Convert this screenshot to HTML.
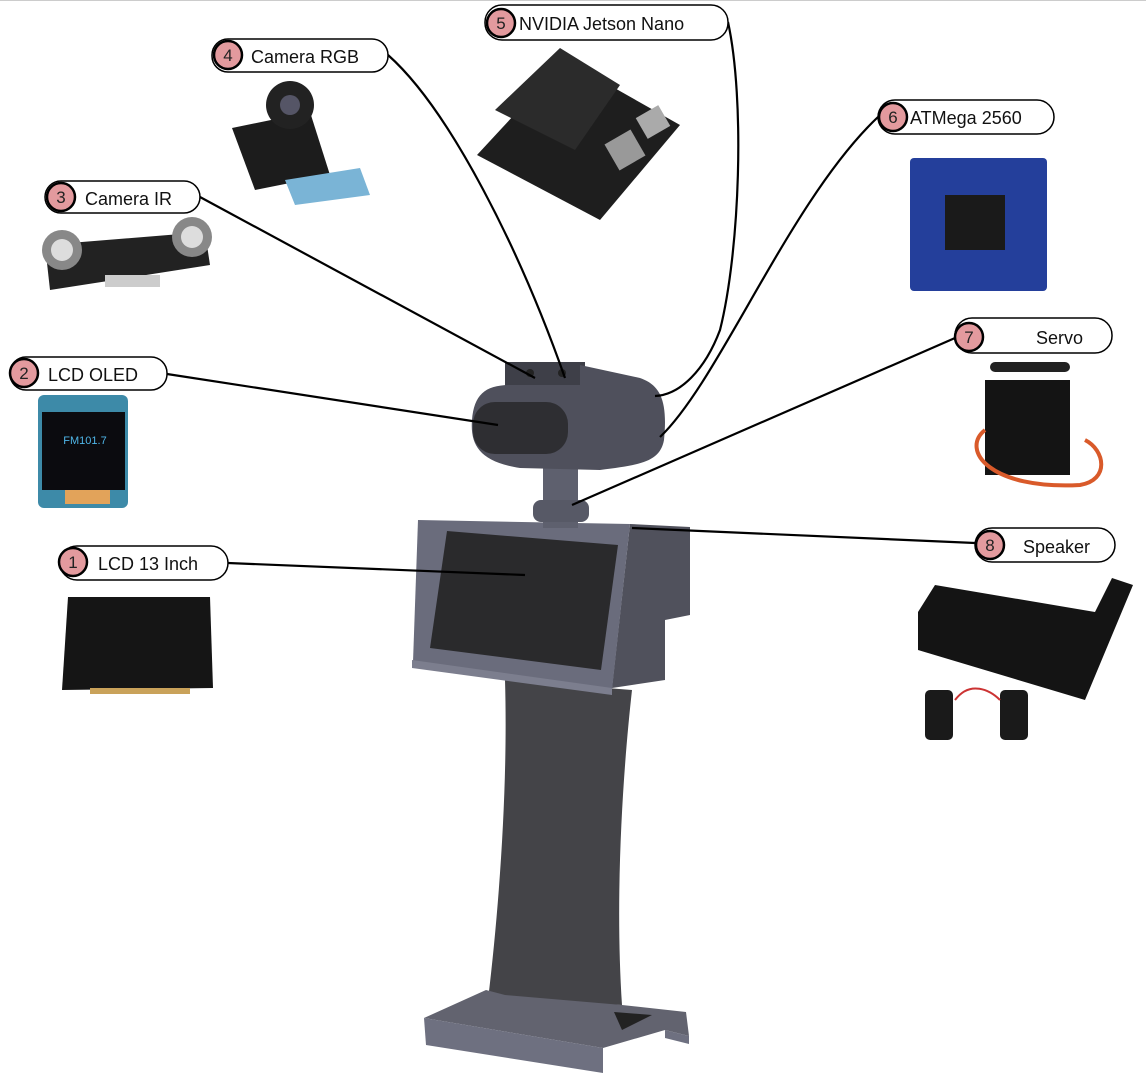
<!DOCTYPE html>
<html><head><meta charset="utf-8"><style>
html,body{margin:0;padding:0;background:#fff;}
svg{display:block;}
text{font-family:"Liberation Sans",sans-serif;}
</style></head><body>
<svg width="1146" height="1089" viewBox="0 0 1146 1089" xmlns="http://www.w3.org/2000/svg">
<line x1="0" y1="0.5" x2="1146" y2="0.5" stroke="#ccc"/>

<!-- pillar -->
<path d="M505,680 L632,690 C622,780 615,900 622,1005 L488,1000 C500,900 508,780 505,680 Z" fill="#444448"/>
<!-- base -->
<path d="M424,1018 L486,990 L505,995 L622,1005 L686,1012 L689,1036 L665,1030 L603,1048 Z" fill="#62636f"/>
<path d="M614,1012 L652,1015 L622,1030 Z" fill="#222"/>
<path d="M424,1018 L603,1048 L603,1073 L426,1045 Z" fill="#6e7080"/>
<path d="M665,1030 L689,1036 L689,1044 L665,1038 Z" fill="#6e7080"/>
<!-- body right side -->
<path d="M630,524 L690,527 L690,615 L665,620 L665,680 L612,688 Z" fill="#50515c"/>
<!-- body front -->
<path d="M418,520 L630,524 L612,690 L413,662 Z" fill="#6a6c7c"/>
<path d="M412,660 L612,688 L612,695 L412,668 Z" fill="#7c7e8e"/>
<path d="M447,531 L618,545 L601,670 L430,648 Z" fill="#2a2a2c"/>
<!-- neck -->
<rect x="543" y="468" width="35" height="60" fill="#5e606e"/>
<rect x="533" y="500" width="56" height="22" rx="8" fill="#575966"/>
<!-- head -->
<rect x="505" y="362" width="80" height="25" fill="#3e3f48"/>
<circle cx="530" cy="373" r="4" fill="#222"/><circle cx="562" cy="373" r="4" fill="#222"/>
<path d="M580,365 L640,378 C660,385 668,400 664,440 C660,462 640,465 600,470 L520,468 C480,462 470,445 472,420 C474,395 485,385 510,385 L580,385 Z" fill="#4f505c"/>
<rect x="473" y="402" width="95" height="52" rx="22" fill="#2e2e32"/>

<!-- connectors -->
<g fill="none" stroke="#000" stroke-width="2.2">
<path d="M228,563 L525,575"/>
<path d="M167,374 L498,425"/>
<path d="M200,197 L535,378"/>
<path d="M388,55 C450,110 520,250 565,378"/>
<path d="M728,22 C745,100 740,250 720,330 C705,370 680,395 655,396"/>
<path d="M878,117 C790,200 720,380 660,437"/>
<path d="M955,338 L572,505"/>
<path d="M975,543 L632,528"/>
</g>

<!-- labels -->
<g stroke="#000" stroke-width="1.5" fill="#fff">
<rect x="60" y="546" width="168" height="34" rx="17"/>
<rect x="10" y="357" width="157" height="33" rx="16"/>
<rect x="45" y="181" width="155" height="32" rx="16"/>
<rect x="212" y="39" width="176" height="33" rx="16"/>
<rect x="485" y="5" width="243" height="35" rx="17"/>
<rect x="878" y="100" width="176" height="34" rx="17"/>
<rect x="955" y="318" width="157" height="35" rx="17"/>
<rect x="975" y="528" width="140" height="34" rx="17"/>
</g>
<g stroke="#000" stroke-width="2.5" fill="#e39a9e">
<circle cx="73" cy="562" r="14"/>
<circle cx="24" cy="373" r="14"/>
<circle cx="61" cy="197" r="14"/>
<circle cx="228" cy="55" r="14"/>
<circle cx="501" cy="23" r="14"/>
<circle cx="893" cy="117" r="14"/>
<circle cx="969" cy="337" r="14"/>
<circle cx="990" cy="545" r="14"/>
</g>
<g font-size="17" text-anchor="middle" fill="#222">
<text x="73" y="568">1</text><text x="24" y="379">2</text><text x="61" y="203">3</text>
<text x="228" y="61">4</text><text x="501" y="29">5</text><text x="893" y="123">6</text>
<text x="969" y="343">7</text><text x="990" y="551">8</text>
</g>
<g font-size="18" fill="#111">
<text x="98" y="570">LCD 13 Inch</text>
<text x="48" y="381">LCD OLED</text>
<text x="85" y="205">Camera IR</text>
<text x="251" y="63">Camera RGB</text>
<text x="519" y="30">NVIDIA Jetson Nano</text>
<text x="910" y="124">ATMega 2560</text>
<text x="1036" y="344">Servo</text>
<text x="1023" y="553">Speaker</text>
</g>

<!-- LCD 13 -->
<path d="M68,597 L210,597 L213,688 L62,690 Z" fill="#151515"/>
<rect x="90" y="688" width="100" height="6" fill="#c9a25a"/>
<!-- OLED -->
<rect x="38" y="395" width="90" height="113" rx="6" fill="#3d8aa8"/>
<rect x="42" y="412" width="83" height="78" fill="#0b0b0f"/>
<rect x="65" y="490" width="45" height="14" fill="#e2a35a"/>
<text x="85" y="444" font-size="11" fill="#4fb6e8" text-anchor="middle">FM101.7</text>
<!-- Camera IR -->
<path d="M45,245 L205,232 L210,265 L50,290 Z" fill="#222"/>
<circle cx="62" cy="250" r="20" fill="#888"/><circle cx="192" cy="237" r="20" fill="#888"/>
<circle cx="62" cy="250" r="11" fill="#ddd"/><circle cx="192" cy="237" r="11" fill="#ddd"/>
<rect x="105" y="275" width="55" height="12" fill="#ccc"/>
<!-- Camera RGB -->
<path d="M232,128 L310,112 L330,175 L255,190 Z" fill="#1c1c1c"/>
<circle cx="290" cy="105" r="24" fill="#222"/><circle cx="290" cy="105" r="10" fill="#556"/>
<path d="M285,180 L360,168 L370,195 L295,205 Z" fill="#7ab4d6"/>
<!-- Jetson -->
<path d="M477,155 L565,60 L680,125 L600,220 Z" fill="#1e1e1e"/>
<path d="M495,110 L560,48 L620,85 L575,150 Z" fill="#2b2b2b"/>
<rect x="610" y="135" width="30" height="30" fill="#999" transform="rotate(-30 625 150)"/>
<rect x="640" y="110" width="26" height="24" fill="#aaa" transform="rotate(-30 653 122)"/>
<!-- ATMega -->
<rect x="910" y="158" width="137" height="133" rx="4" fill="#243f9b"/>
<rect x="945" y="195" width="60" height="55" fill="#1a1a1a"/>
<!-- Servo -->
<rect x="985" y="380" width="85" height="95" fill="#141414"/>
<rect x="990" y="362" width="80" height="10" rx="5" fill="#222"/>
<path d="M985,430 C960,450 990,490 1080,485 C1110,480 1105,450 1085,440" stroke="#d95a2a" stroke-width="4" fill="none"/>
<!-- Speaker -->
<path d="M918,612 L935,585 L1095,612 L1112,578 L1133,585 L1085,700 L918,650 Z" fill="#141414"/>
<rect x="925" y="690" width="28" height="50" rx="5" fill="#1a1a1a"/>
<rect x="1000" y="690" width="28" height="50" rx="5" fill="#1a1a1a"/>
<path d="M955,700 C970,680 990,690 1000,700" stroke="#c33" stroke-width="2" fill="none"/>
</svg>
</body></html>
